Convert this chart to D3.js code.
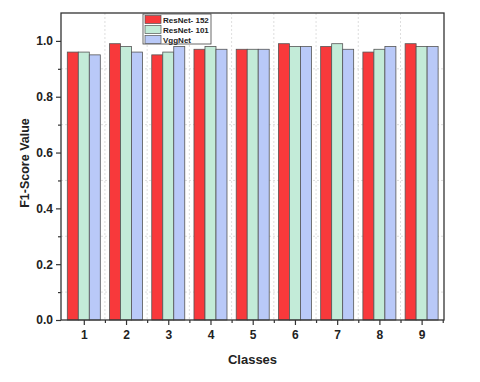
<!DOCTYPE html>
<html>
<head>
<meta charset="utf-8">
<script src="https://cdn.jsdelivr.net/npm/d3@7"></script>
<style>
  body { margin: 0; background: #fff; }
  text { font-family: "Liberation Sans", Arial, sans-serif; font-weight: bold; fill: #222; }
</style>
</head>
<body>
<div id="chart"></div>
<script>
"use strict";

const classes = [1, 2, 3, 4, 5, 6, 7, 8, 9];
const seriesNames = ["ResNet- 152", "ResNet- 101", "VggNet"];
const resnet152 = [0.96, 0.99, 0.95, 0.97, 0.97, 0.99, 0.98, 0.96, 0.99];
const resnet101 = [0.96, 0.98, 0.96, 0.98, 0.97, 0.98, 0.99, 0.97, 0.98];
const vggnet = [0.95, 0.96, 0.98, 0.97, 0.97, 0.98, 0.97, 0.98, 0.98];
const yTicks = [0, 0.2, 0.4, 0.6, 0.8, 1.0];
const yMinor = [0.1, 0.3, 0.5, 0.7, 0.9];

const colors = ["#f8393b", "#c3ebd8", "#b9c9f8"];
const series = [resnet152, resnet101, vggnet];

const W = 480, H = 382;
const M = { left: 61, right: 36, top: 13, bottom: 62 };

const svg = d3.select("#chart").append("svg")
  .attr("width", W).attr("height", H);

const x = d3.scaleLinear().domain([0.46, 9.53]).range([M.left, W - M.right]);
const y = d3.scaleLinear().domain([0, 1.1]).range([H - M.bottom, M.top]);

// grid (dotted, light)
const grid = svg.append("g").attr("stroke", "#d6d6d6").attr("stroke-dasharray", "2,2").attr("stroke-width", 0.8);
grid.selectAll(".hg").data(yMinor).join("line")
  .attr("x1", M.left).attr("x2", W - M.right)
  .attr("y1", d => y(d)).attr("y2", d => y(d));
grid.selectAll(".vg").data(classes.slice(0, -1).map(c => c + 0.5)).join("line")
  .attr("y1", M.top).attr("y2", H - M.bottom)
  .attr("x1", d => x(d)).attr("x2", d => x(d));

// bars
const barW = 11;
series.forEach((vals, si) => {
  svg.append("g").selectAll("rect").data(vals).join("rect")
    .attr("x", (d, i) => x(classes[i]) - 1.5 * barW + si * barW)
    .attr("y", d => y(d))
    .attr("width", barW)
    .attr("height", d => y(0) - y(d))
    .attr("fill", colors[si])
    .attr("stroke", "#555")
    .attr("stroke-width", 0.8);
});

// frame
svg.append("rect")
  .attr("x", M.left).attr("y", M.top)
  .attr("width", W - M.right - M.left).attr("height", H - M.bottom - M.top)
  .attr("fill", "none").attr("stroke", "#333").attr("stroke-width", 1.3);

// axes
const yAxis = d3.axisLeft(y).tickValues(yTicks).tickFormat(d3.format(".1f")).tickSize(5).tickPadding(3);
const gy = svg.append("g").attr("transform", `translate(${M.left},0)`).call(yAxis);
gy.select(".domain").remove();
gy.selectAll("text").attr("font-size", 12);
svg.append("g").attr("transform", `translate(${M.left},0)`)
  .call(d3.axisLeft(y).tickValues(yMinor).tickFormat("").tickSize(3))
  .select(".domain").remove();

const xAxis = d3.axisBottom(x).tickValues(classes).tickFormat(d3.format("d")).tickSize(5).tickPadding(5);
const gx = svg.append("g").attr("transform", `translate(0,${H - M.bottom})`).call(xAxis);
gx.select(".domain").remove();
gx.selectAll("text").attr("font-size", 12);
svg.append("g").attr("transform", `translate(0,${H - M.bottom})`)
  .call(d3.axisBottom(x).tickValues(classes.map(c => c + 0.5)).tickFormat("").tickSize(3))
  .select(".domain").remove();
svg.selectAll(".tick line").attr("stroke", "#333").attr("stroke-width", 1.2);

// axis titles
svg.append("text")
  .attr("x", (M.left + W - M.right) / 2).attr("y", 364)
  .attr("text-anchor", "middle").attr("font-size", 13)
  .text("Classes");
svg.append("text")
  .attr("transform", `translate(29,163) rotate(-90)`)
  .attr("text-anchor", "middle").attr("font-size", 12.5)
  .text("F1-Score Value");

// legend
const lg = svg.append("g").attr("transform", "translate(143,14)");
lg.append("rect").attr("width", 68).attr("height", 30)
  .attr("fill", "#fff").attr("stroke", "#444").attr("stroke-width", 0.8);
seriesNames.forEach((name, i) => {
  lg.append("rect").attr("x", 2).attr("y", 1.5 + i * 10).attr("width", 16).attr("height", 8)
    .attr("fill", colors[i]).attr("stroke", "#555").attr("stroke-width", 0.7);
  lg.append("text").attr("x", 20).attr("y", 8.7 + i * 10)
    .attr("font-size", 8).text(name);
});
</script>
</body>
</html>
